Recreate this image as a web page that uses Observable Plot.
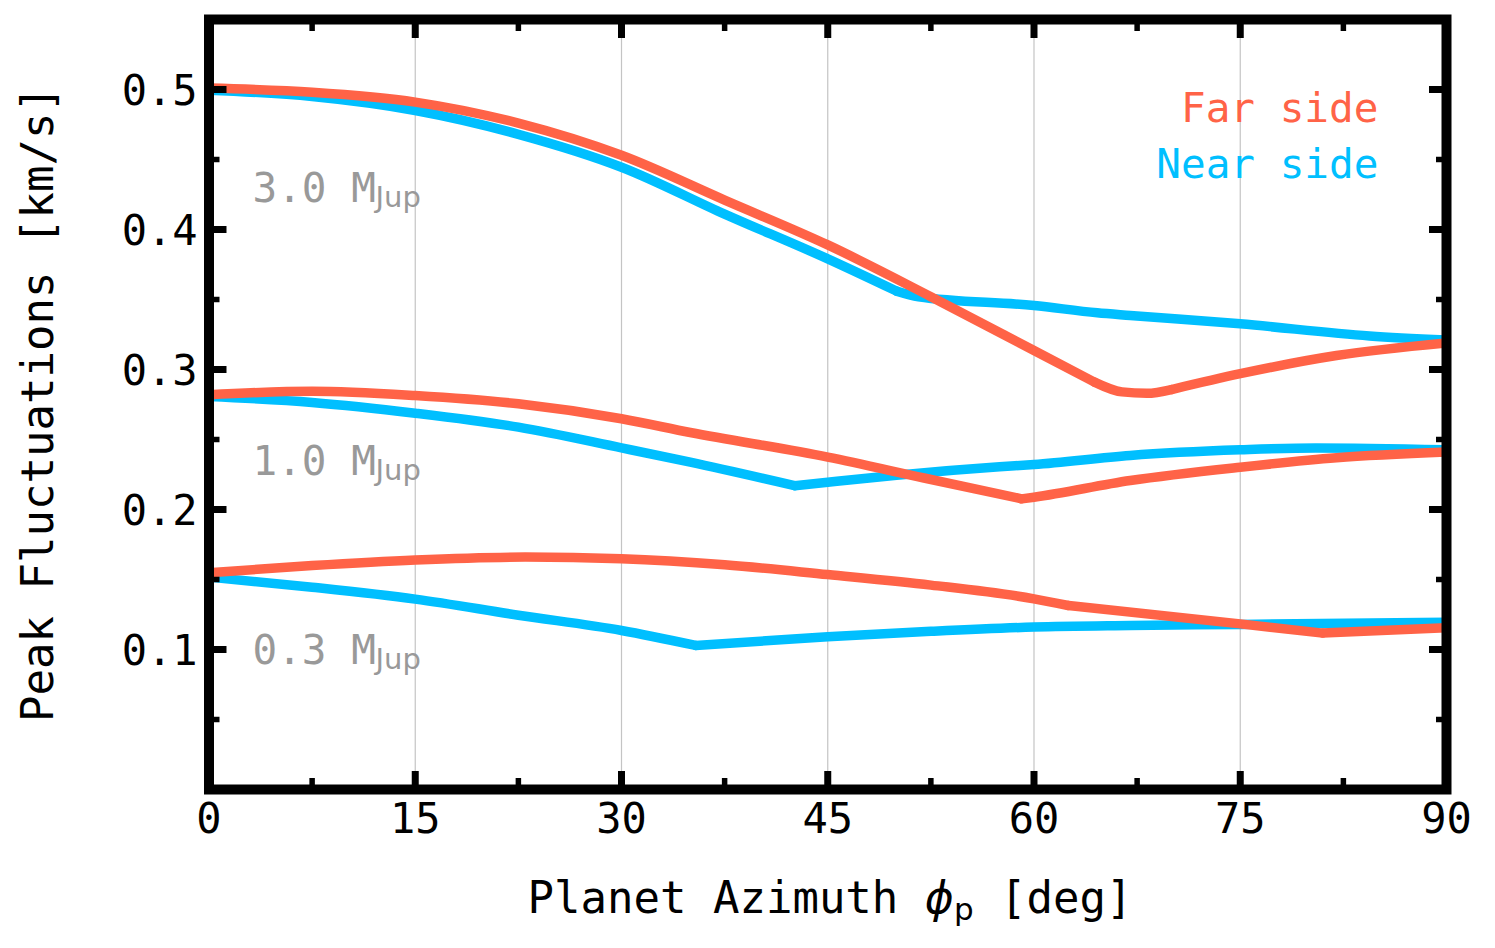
<!DOCTYPE html>
<html>
<head>
<meta charset="utf-8">
<script src="https://cdn.jsdelivr.net/npm/d3@7"></script>
<script src="https://cdn.jsdelivr.net/npm/@observablehq/plot@0.6"></script>
<style>
  body { margin: 0; background: #fff; }
  #chart svg { display: block; }
</style>
</head>
<body>
<div id="chart"></div>
<script>
// ---- data ----
const sides = ["Far side", "Near side"];
const sideColors = ["#ff6347", "#00bfff"];

const nearPhi30 = [0, 7.5, 15, 22.5, 30, 37.5, 45, 50, 51.6, 60, 64.6, 67, 75, 84.4, 90];
const nearV30   = [0.4995, 0.495, 0.485, 0.468, 0.4445, 0.411, 0.379, 0.356, 0.352, 0.3457, 0.3405, 0.3386, 0.3326, 0.324, 0.321];
const nearBreaks30 = [50];
const farPhi30  = [0, 7.5, 15, 22.5, 30, 37.5, 45, 52.5, 60, 64.4, 66.4, 68.2, 70, 75, 82, 90];
const farV30    = [0.501, 0.498, 0.491, 0.476, 0.453, 0.421, 0.389, 0.352, 0.3136, 0.291, 0.284, 0.283, 0.2857, 0.297, 0.310, 0.319];
const farBreaks30 = [64.4, 70];

const nearPhi10 = [0, 7.5, 15, 22.5, 30, 35, 42.6, 45, 50, 57.5, 60, 67, 75, 80.5, 90];
const nearV10   = [0.2807, 0.2765, 0.2688, 0.2588, 0.244, 0.2338, 0.217, 0.2195, 0.2245, 0.2305, 0.2321, 0.2386, 0.2426, 0.244, 0.2426];
const nearBreaks10 = [42.6];
const farPhi10  = [0, 7.5, 15, 22.5, 30, 35, 45, 52, 59.1, 60, 67, 75, 82, 90];
const farV10    = [0.282, 0.2845, 0.2814, 0.2755, 0.2648, 0.255, 0.2374, 0.2225, 0.2076, 0.2088, 0.2207, 0.2302, 0.2369, 0.241];
const farBreaks10 = [59.1];

const nearPhi03 = [0, 7.5, 15, 22.5, 30, 35.4, 45, 52.5, 60, 67, 75, 90];
const nearV03   = [0.1517, 0.1445, 0.136, 0.1245, 0.1136, 0.1029, 0.1091, 0.113, 0.1160, 0.1171, 0.1179, 0.1195];
const nearBreaks03 = [35.4];
const farPhi03  = [0, 7.5, 15, 23, 30, 37.5, 45, 52.5, 60, 62.5, 75, 81, 90];
const farV03    = [0.1548, 0.160, 0.164, 0.166, 0.1648, 0.1605, 0.1535, 0.146, 0.1362, 0.1314, 0.1183, 0.1117, 0.1155];
const farBreaks03 = [62.5, 81];

const massText = ["3.0 M", "1.0 M", "0.3 M"];
const massSub = "Jup";
const massY = [0.4195, 0.2243, 0.090];
const legendY = [0.4766, 0.4366];

const xMajor = [0, 15, 30, 45, 60, 75, 90];
const xMinor = [7.5, 22.5, 37.5, 52.5, 67.5, 82.5];
const xGrid = [15, 30, 45, 60, 75];
const yMajor = [0.1, 0.2, 0.3, 0.4, 0.5];
const yMinor = [0.05, 0.15, 0.25, 0.35, 0.45];

// ---- table: each series split into smooth pieces at its corners ----
const rows = [];
function addSeries(side, mass, phi, v, breaks) {
  let seg = 0;
  phi.forEach((p, i) => {
    rows.push({side, key: `${side}|${mass}|${seg}`, phi: p, v: v[i]});
    if (breaks.includes(p)) {
      seg++;
      rows.push({side, key: `${side}|${mass}|${seg}`, phi: p, v: v[i]});
    }
  });
}
// near side first so far side is drawn on top
addSeries("Near side", "3.0", nearPhi30, nearV30, nearBreaks30);
addSeries("Near side", "1.0", nearPhi10, nearV10, nearBreaks10);
addSeries("Near side", "0.3", nearPhi03, nearV03, nearBreaks03);
addSeries("Far side", "3.0", farPhi30, farV30, farBreaks30);
addSeries("Far side", "1.0", farPhi10, farV10, farBreaks10);
addSeries("Far side", "0.3", farPhi03, farV03, farBreaks03);

const mono = "'DejaVu Sans Mono', monospace";
const noText = () => "";

const chart = Plot.plot({
  width: 1495,
  height: 948,
  marginTop: 19,
  marginLeft: 208.5,
  marginRight: 49,
  marginBottom: 159,
  style: {fontFamily: mono, background: "#fff", color: "#000", overflow: "visible"},
  x: {domain: [0, 90]},
  y: {domain: [0, 0.55]},
  color: {domain: sides, range: sideColors},
  marks: [
    Plot.gridX(xGrid, {stroke: "#c4c4c4", strokeOpacity: 1, strokeWidth: 1.2}),
    Plot.line(rows, {x: "phi", y: "v", z: "key", stroke: "side", strokeWidth: 9.5, strokeLinejoin: "round", strokeLinecap: "round", curve: "monotone-x", clip: true}),
    Plot.text(massText, {x: () => 3.16, y: (d, i) => massY[i], text: d => d, textAnchor: "start", lineAnchor: "bottom", fontSize: 41, fill: "#999999"}),
    Plot.text(massY, {x: () => 3.16, y: d => d, text: () => massSub, textAnchor: "start", lineAnchor: "bottom", dx: 123, dy: 5, fontSize: 29, fontFamily: "'DejaVu Sans', sans-serif", fill: "#999999"}),
    Plot.text(sides, {x: () => 85.05, y: (d, i) => legendY[i], text: d => d, fill: d => d, textAnchor: "end", lineAnchor: "bottom", fontSize: 41}),
    Plot.frame({stroke: "#000", strokeWidth: 10}),
    // inward ticks on all four sides
    Plot.axisX(xMajor, {anchor: "bottom", tickSize: -18, strokeWidth: 7, tickFormat: noText, label: null}),
    Plot.axisX(xMajor, {anchor: "top", tickSize: -18, strokeWidth: 7, tickFormat: noText, label: null}),
    Plot.axisX(xMinor, {anchor: "bottom", tickSize: -11, strokeWidth: 5.5, tickFormat: noText, label: null}),
    Plot.axisX(xMinor, {anchor: "top", tickSize: -11, strokeWidth: 5.5, tickFormat: noText, label: null}),
    Plot.axisY(yMajor, {anchor: "left", tickSize: -18, strokeWidth: 7, tickFormat: noText, label: null}),
    Plot.axisY(yMajor, {anchor: "right", tickSize: -18, strokeWidth: 7, tickFormat: noText, label: null}),
    Plot.axisY(yMinor, {anchor: "left", tickSize: -11, strokeWidth: 5.5, tickFormat: noText, label: null}),
    Plot.axisY(yMinor, {anchor: "right", tickSize: -11, strokeWidth: 5.5, tickFormat: noText, label: null}),
    // tick labels
    Plot.axisX(xMajor, {anchor: "bottom", tickSize: 0, tickPadding: 14, fontSize: 42, tickFormat: d => String(d), label: null}),
    Plot.axisY(yMajor, {anchor: "left", tickSize: 0, tickPadding: 11.5, dy: 2, fontSize: 42, tickFormat: d3.format(".1f"), label: null})
  ]
});

document.getElementById("chart").appendChild(chart);

// axis titles (with math-style phi and subscript)
const svg = d3.select(chart);
const xt = svg.append("text")
  .attr("x", 830).attr("y", 913)
  .attr("text-anchor", "middle")
  .attr("font-family", mono)
  .attr("font-size", 44)
  .attr("fill", "#000");
xt.append("tspan").text("Planet Azimuth ");
xt.append("tspan").attr("font-family", "'DejaVu Sans', sans-serif").attr("font-style", "italic").text("ϕ");
xt.append("tspan").attr("font-family", "'DejaVu Sans', sans-serif").attr("font-size", 31).attr("dy", 7).text("p");
xt.append("tspan").attr("dy", -7).text(" [deg]");

svg.append("text")
  .attr("transform", "translate(53,404) rotate(-90)")
  .attr("text-anchor", "middle")
  .attr("font-family", mono)
  .attr("font-size", 44)
  .attr("fill", "#000")
  .text("Peak Fluctuations [km/s]");
</script>
</body>
</html>
